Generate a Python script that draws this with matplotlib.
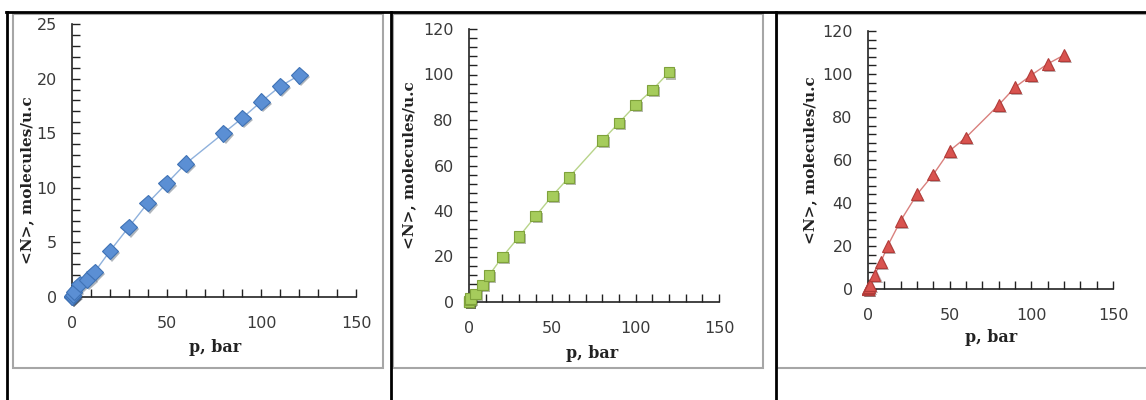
import numpy as np
from matplotlib import pyplot as plt
from matplotlib import patheffects as pe
from matplotlib.lines import Line2D
from matplotlib.patches import Rectangle
from matplotlib.ticker import MultipleLocator

# pressure points (bar), shared by all three panels
p = [0.001, 0.01, 0.1, 0.5, 1, 4, 8, 12, 20, 30, 40, 50, 60, 80, 90, 100, 110, 120]

n_blue = [0.0, 0.01, 0.05, 0.2, 0.5, 1.2, 1.6, 2.3, 4.2, 6.4, 8.6, 10.4, 12.2,
          15.0, 16.4, 17.9, 19.3, 20.3]
n_green = [0.0, 0.05, 0.3, 0.9, 1.5, 3.5, 7.5, 11.7, 19.8, 28.7, 37.8, 46.7, 54.8,
           71.0, 78.8, 86.6, 93.2, 101.0]
n_red = [0.0, 0.1, 0.5, 1.0, 1.9, 6.5, 12.7, 20.0, 31.8, 44.0, 53.3, 64.3, 70.5,
         85.6, 93.8, 99.5, 104.7, 108.8]

W, H = 1146, 400

panels = [
    dict(y=n_blue, rect=(72, 24, 356, 297), ymax=25, major=5, minor=1,
         marker="D", ms=8.5, face="#5b8fd4", edge="#3f72b5", line="#8fb1dc",
         ylab_x=27, ylab_y=180, xlab_x=215, xlab_y=348),
    dict(y=n_green, rect=(469, 29, 719, 302), ymax=120, major=20, minor=4,
         marker="s", ms=7.5, face="#a6cc5c", edge="#7fa23b", line="#b8d48a",
         ylab_x=409, ylab_y=165, xlab_x=592, xlab_y=353),
    dict(y=n_red, rect=(868, 31, 1113, 289), ymax=120, major=20, minor=4,
         marker="^", ms=8.5, face="#d9534f", edge="#b23c39", line="#d9807d",
         ylab_x=810, ylab_y=160, xlab_x=991, xlab_y=338),
]

fig = plt.figure(figsize=(W / 100, H / 100), dpi=100)
fig.patch.set_facecolor("white")

# grey chart boxes
for x0, x1 in [(12.5, 383), (392.5, 763), (777, 1150)]:
    fig.add_artist(Rectangle((x0 / W, 1 - 367.5 / H), (x1 - x0) / W, (367.5 - 13.5) / H,
                             transform=fig.transFigure, fill=False,
                             edgecolor="#a6a6a6", linewidth=1.5))

# black table lines
fig.add_artist(Line2D([6 / W, 1], [1 - 12 / H] * 2, transform=fig.transFigure,
                      color="black", linewidth=2))
for xv in [6.5, 391, 775.5]:
    fig.add_artist(Line2D([xv / W] * 2, [0, 1 - 12 / H], transform=fig.transFigure,
                          color="black", linewidth=2))

for pn in panels:
    x0, y0, x1, y1 = pn["rect"]
    ax = fig.add_axes([x0 / W, 1 - y1 / H, (x1 - x0) / W, (y1 - y0) / H])
    ax.set_xlim(0, 150)
    ax.set_ylim(0, pn["ymax"])
    ax.patch.set_alpha(0)
    for s in ["top", "right"]:
        ax.spines[s].set_visible(False)
    for s in ["left", "bottom"]:
        ax.spines[s].set_color("#222222")
        ax.spines[s].set_linewidth(1.2)
    ax.xaxis.set_major_locator(MultipleLocator(50))
    ax.xaxis.set_minor_locator(MultipleLocator(10))
    ax.yaxis.set_major_locator(MultipleLocator(pn["major"]))
    ax.yaxis.set_minor_locator(MultipleLocator(pn["minor"]))
    ax.tick_params(which="both", direction="in", length=6, width=1, color="#222222")
    ax.tick_params(axis="both", which="major", labelsize=11.5, labelcolor="#3a3a3a")
    ax.tick_params(axis="x", pad=14)
    ax.tick_params(axis="y", pad=11)

    ax.plot(p, pn["y"], "-", color=pn["line"], linewidth=1, clip_on=False, zorder=2)
    ax.plot(p, pn["y"], linestyle="none", marker=pn["marker"], ms=pn["ms"],
            markerfacecolor=pn["face"], markeredgecolor=pn["edge"], markeredgewidth=0.8,
            clip_on=False, zorder=3,
            path_effects=[pe.SimplePatchShadow(offset=(1.5, -1.5), alpha=0.35),
                          pe.Normal()])

    fig.text(pn["ylab_x"] / W, 1 - pn["ylab_y"] / H, "<N>, molecules/u.c",
             rotation=90, ha="center", va="center", fontsize=11, fontweight="bold",
             family="DejaVu Serif", color="#222222")
    fig.text(pn["xlab_x"] / W, 1 - pn["xlab_y"] / H, "p, bar",
             ha="center", va="center", fontsize=11.5, fontweight="bold",
             family="DejaVu Serif", color="#222222")

plt.savefig("out.png", dpi=100)
